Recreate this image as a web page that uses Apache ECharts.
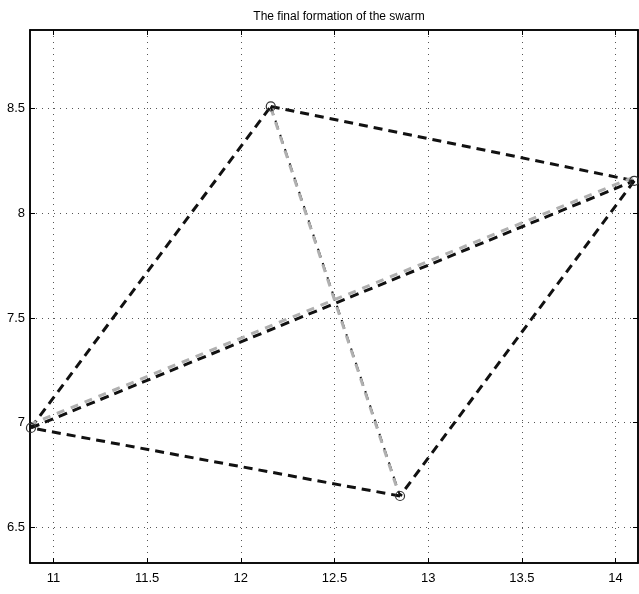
<!DOCTYPE html>
<html>
<head>
<meta charset="utf-8">
<script src="https://cdn.jsdelivr.net/npm/echarts@6/dist/echarts.min.js"></script>
<style>
html,body{margin:0;padding:0;background:#fff;}
#c{width:639px;height:594px;}
</style>
</head>
<body>
<div id="c"></div>
<script>
const titleText = 'The final formation of the swarm';
const xTicks = [11, 11.5, 12, 12.5, 13, 13.5, 14];
const yTicks = [6.5, 7, 7.5, 8, 8.5];
const xRange = [10.875, 14.12];
const yRange = [6.33, 8.875];
// final agent positions
const nodeX = [10.88, 12.16, 12.85, 14.10];
const nodeY = [6.975, 8.51, 6.65, 8.155];
// formation edges (black dashed)
const edges = [[0,1],[1,3],[3,2],[2,0],[0,3],[1,2]];
// gray diagonal traces
const grayADx = [10.885, 14.09];
const grayADy = [6.995, 8.17];
const grayBCx = [12.165, 12.84];
const grayBCy = [8.49, 6.67];

const chart = echarts.init(document.getElementById('c'), null, {renderer:'canvas'});
const font = '"Liberation Sans", Arial, sans-serif';
const series = [];
edges.forEach((e, k) => {
  const diagBC = (e[0] === 1 && e[1] === 2);
  series.push({
    type:'line', silent:true, symbol:'none', z:3,
    data:[[nodeX[e[0]], nodeY[e[0]]],[nodeX[e[1]], nodeY[e[1]]]],
    lineStyle:{color:'#111', width: diagBC ? 2 : 3, type:[9,6]}
  });
});
series.push({
  type:'line', silent:true, symbol:'none', z:4,
  data:[[grayADx[0],grayADy[0]],[grayADx[1],grayADy[1]]],
  lineStyle:{color:'#b0b0b0', width:3, type:[8,7], dashOffset:3}
});
series.push({
  type:'line', silent:true, symbol:'none', z:4,
  data:[[grayBCx[0],grayBCy[0]],[grayBCx[1],grayBCy[1]]],
  lineStyle:{color:'#b0b0b0', width:3, type:[8,7], dashOffset:3}
});
series.push({
  type:'scatter', silent:true, z:6,
  symbol:'circle', symbolSize:9,
  itemStyle:{color:'rgba(0,0,0,0)', borderColor:'#333', borderWidth:1.2, opacity:1},
  data: nodeX.map((x,i)=>[x,nodeY[i]])
});

chart.setOption({
  animation:false,
  backgroundColor:'#fff',
  title:{text:titleText, left:334, top:6, textAlign:'center',
    textStyle:{fontFamily:font, fontSize:12, fontWeight:'normal', color:'#000'}},
  grid:{left:30, right:1, top:30, bottom:31, show:true, borderColor:'#000', borderWidth:1.5},
  xAxis:[
    {type:'value', position:'bottom', min:xRange[0], max:xRange[1],
      axisLine:{show:true, onZero:false, lineStyle:{color:'#000', width:1.5}},
      axisTick:{show:true, inside:true, length:5, customValues:xTicks, lineStyle:{color:'#000'}},
      axisLabel:{customValues:xTicks, color:'#000', fontFamily:font, fontSize:13, margin:9},
      splitLine:{show:true, lineStyle:{color:'#555', width:1, type:[1,5]}}},
    {type:'value', position:'top', min:xRange[0], max:xRange[1],
      axisLine:{show:true, lineStyle:{color:'#000', width:1.5}},
      axisTick:{show:true, inside:true, length:5, customValues:xTicks, lineStyle:{color:'#000'}},
      axisLabel:{show:false}, splitLine:{show:false}}
  ],
  yAxis:[
    {type:'value', position:'left', min:yRange[0], max:yRange[1],
      axisLine:{show:true, onZero:false, lineStyle:{color:'#000', width:1.5}},
      axisTick:{show:true, inside:true, length:5, customValues:yTicks, lineStyle:{color:'#000'}},
      axisLabel:{customValues:yTicks, color:'#000', fontFamily:font, fontSize:13, margin:5},
      splitLine:{show:true, lineStyle:{color:'#555', width:1, type:[1,5]}}},
    {type:'value', position:'right', min:yRange[0], max:yRange[1],
      axisLine:{show:true, lineStyle:{color:'#000', width:1.5}},
      axisTick:{show:true, inside:true, length:5, customValues:yTicks, lineStyle:{color:'#000'}},
      axisLabel:{show:false}, splitLine:{show:false}}
  ],
  series: series
});
</script>
</body>
</html>
